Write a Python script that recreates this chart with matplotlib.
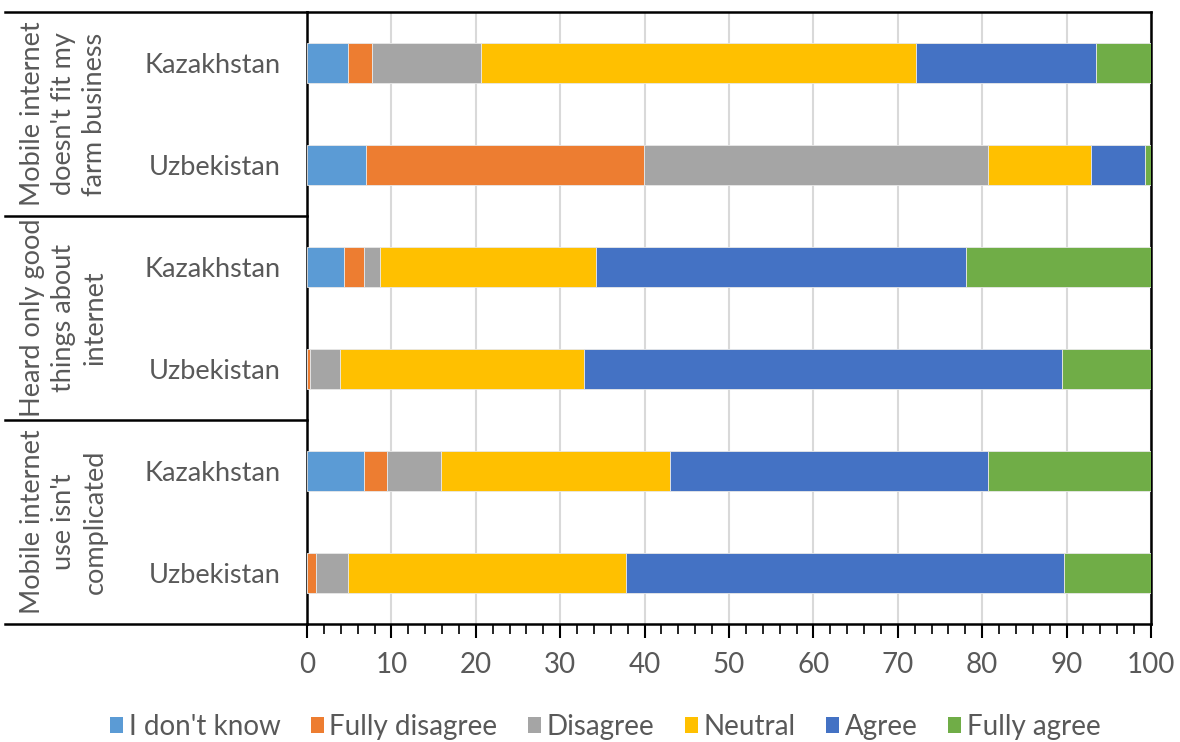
import matplotlib
matplotlib.use("Agg")
import matplotlib.pyplot as plt
from matplotlib.patches import Patch
from matplotlib.lines import Line2D
from matplotlib.ticker import MultipleLocator
import numpy as np

plt.rcParams['font.family'] = ['Lato', 'DejaVu Sans']

groups = ["Mobile internet\ndoesn't fit my\nfarm business",
          "Heard only good\nthings about\ninternet",
          "Mobile internet\nuse isn't\ncomplicated"]
countries = ["Kazakhstan", "Uzbekistan", "Kazakhstan", "Uzbekistan", "Kazakhstan", "Uzbekistan"]
series = ["I don't know", "Fully disagree", "Disagree", "Neutral", "Agree", "Fully agree"]
dont_know      = [4.9, 7.0, 4.4, 0.0, 6.8, 0.0]
fully_disagree = [2.8, 32.9, 2.4, 0.3, 2.7, 1.1]
disagree       = [12.9, 40.8, 1.8, 3.6, 6.4, 3.8]
neutral        = [51.5, 12.2, 25.7, 28.9, 27.1, 32.9]
agree          = [21.4, 6.4, 43.8, 56.6, 37.7, 51.9]
fully_agree    = [6.5, 0.7, 21.9, 10.6, 19.3, 10.3]
xticks = [0, 10, 20, 30, 40, 50, 60, 70, 80, 90, 100]

colors = ["#5B9BD5", "#ED7D31", "#A5A5A5", "#FFC000", "#4472C4", "#70AD47"]
text_color = "#595959"

fig = plt.figure(figsize=(11.8, 7.42), dpi=100)
ax = fig.add_axes([307/1180, 1 - 624/742, (1151-307)/1180, (624-12)/742])

y = np.arange(len(countries))
left = np.zeros(len(countries))
data = [dont_know, fully_disagree, disagree, neutral, agree, fully_agree]
for vals, c, name in zip(data, colors, series):
    ax.barh(y, vals, left=left, height=0.4, color=c, edgecolor="#e8e8e8",
            linewidth=0.6, label=name, zorder=3)
    left += np.array(vals)

ax.set_ylim(len(countries) - 0.5, -0.5)
ax.set_xlim(0, 100)
ax.set_xticks(xticks)
ax.xaxis.set_minor_locator(MultipleLocator(2))
ax.set_yticks(y)
ax.set_yticklabels(countries, fontsize=19.5, color=text_color)
ax.tick_params(axis='y', length=0, pad=19)
ax.tick_params(axis='x', which='major', length=10, width=1.5, direction='out',
               labelsize=20, labelcolor=text_color, pad=10)
ax.tick_params(axis='x', which='minor', length=7, width=1.2, direction='out')
ax.grid(axis='x', which='major', color="#d9d9d9", linewidth=1.5, zorder=0)
for s in ax.spines.values():
    s.set_color("black")
    s.set_linewidth(1.8)

# group separators and labels
trans = matplotlib.transforms.blended_transform_factory(ax.transAxes, ax.transData)
x0 = (5 - 307) / (1151 - 307)
for b in [-0.5, 1.5, 3.5, 5.5]:
    ax.add_line(Line2D([x0, 0], [b, b], transform=trans, color="black",
                       linewidth=1.8, clip_on=False))
xg = (64 - 307) / (1151 - 307)
for i, g in enumerate(groups):
    ax.text(xg, 2 * i + 0.5, g, transform=trans, rotation=90, ha='center',
            va='center', multialignment='center', fontsize=19.5,
            color=text_color, linespacing=1.3)

handles = [Patch(facecolor=c, edgecolor='none') for c in colors]
fig.legend(handles, series, loc='center', bbox_to_anchor=(0.513, 1 - 727/742),
           ncol=6, frameon=False, fontsize=20, labelcolor=text_color,
           handlelength=0.47, handleheight=0.47, handletextpad=0.2,
           columnspacing=1.1)

fig.savefig("out.png", dpi=100)
